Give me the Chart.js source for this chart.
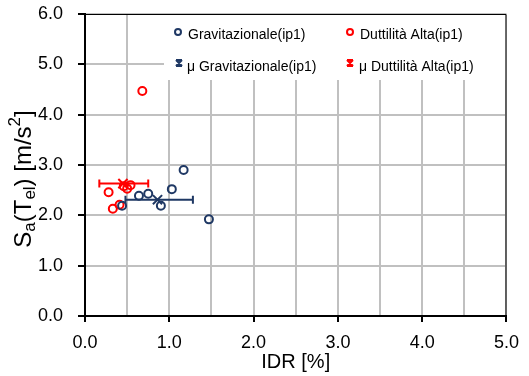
<!DOCTYPE html>
<html>
<head>
<meta charset="utf-8">
<script src="https://cdn.jsdelivr.net/npm/chart.js@4.4.0/dist/chart.umd.min.js"></script>
<style>
  html, body { margin: 0; padding: 0; background: #fff; }
  #chart { display: block; }
</style>
</head>
<body>
<canvas id="chart" width="529" height="376"></canvas>
<script>
/* ── Data ── */
const gravIDR = [1.17, 1.03, 0.75, 0.64, 0.44, 0.90, 1.47];
const gravSa  = [2.90, 2.52, 2.43, 2.39, 2.19, 2.19, 1.92];
const duttIDR = [0.28, 0.33, 0.41, 0.46, 0.50, 0.54, 0.68];
const duttSa  = [2.46, 2.13, 2.21, 2.58, 2.53, 2.60, 4.47];

// μ markers: [Gravitazionale, Duttilità Alta]
const meanIDR     = [0.86, 0.45];
const meanSa      = [2.31, 2.63];
const meanIDRLow  = [0.48, 0.17];
const meanIDRHigh = [1.28, 0.75];

const seriesLabels = ['Gravitazionale(ip1)', 'Duttilità Alta(ip1)', 'μ Gravitazionale(ip1)', 'μ Duttilità Alta(ip1)'];
const xTitle = 'IDR [%]';
// y title pieces: [text, 0 normal / 1 subscript / -1 superscript]
const yTitleParts = [['S', 0], ['a', 1], ['(T', 0], ['el', 1], [') [m/s', 0], ['2', -1], [']', 0]];

const NAVY = '#1f3864';
const RED  = '#ff0000';
const GRID = '#c0c0c0';
const FONT = "'Liberation Sans', Arial, sans-serif";

const toPts = (xs, ys) => xs.map((x, i) => ({ x, y: ys[i] }));

/* ── Error bars (horizontal) ── */
const errorBars = {
  id: 'errorBars',
  beforeDatasetsDraw(chart) {
    const { ctx, scales: { x, y } } = chart;
    const colors = [NAVY, RED];
    ctx.save();
    ctx.lineWidth = 2;
    meanIDR.forEach((_, i) => {
      const py = y.getPixelForValue(meanSa[i]);
      const x0 = x.getPixelForValue(meanIDRLow[i]);
      const x1 = x.getPixelForValue(meanIDRHigh[i]);
      ctx.strokeStyle = colors[i];
      ctx.beginPath();
      ctx.moveTo(x0, py); ctx.lineTo(x1, py);
      ctx.moveTo(x0, py - 4); ctx.lineTo(x0, py + 4);
      ctx.moveTo(x1, py - 4); ctx.lineTo(x1, py + 4);
      ctx.stroke();
    });
    ctx.restore();
  }
};

/* ── Legend box inside plot, frame, y title ── */
const decor = {
  id: 'decor',
  afterDraw(chart) {
    const { ctx, chartArea: a } = chart;
    ctx.save();

    // legend
    ctx.fillStyle = '#fff';
    ctx.fillRect(164, a.top + 1, a.right - 165, 80 - a.top - 1);
    const items = [
      { x: 178, y: 32, tx: 188, ty: 38.5, c: NAVY, s: 'circle' },
      { x: 350, y: 32, tx: 360, ty: 38.5, c: RED,  s: 'circle' },
      { x: 179, y: 63, tx: 187, ty: 71,   c: NAVY, s: 'x' },
      { x: 350, y: 63, tx: 359, ty: 71,   c: RED,  s: 'x' },
    ];
    ctx.font = '14px ' + FONT;
    ctx.textBaseline = 'alphabetic';
    items.forEach((it, i) => {
      ctx.strokeStyle = it.c;
      ctx.lineWidth = 2;
      ctx.beginPath();
      if (it.s === 'circle') {
        ctx.arc(it.x, it.y, 3, 0, Math.PI * 2);
      } else {
        ctx.moveTo(it.x - 3, it.y - 3); ctx.lineTo(it.x + 3, it.y + 3);
        ctx.moveTo(it.x + 3, it.y - 3); ctx.lineTo(it.x - 3, it.y + 3);
        ctx.moveTo(it.x - 3, it.y - 3); ctx.lineTo(it.x + 3, it.y - 3);
        ctx.moveTo(it.x - 3, it.y + 3); ctx.lineTo(it.x + 3, it.y + 3);
      }
      ctx.stroke();
      ctx.fillStyle = '#000';
      ctx.fillText(seriesLabels[i], it.tx, it.ty);
    });

    // top / right frame
    ctx.strokeStyle = '#000';
    ctx.lineWidth = 1;
    ctx.beginPath();
    ctx.moveTo(a.left, a.top + 0.5); ctx.lineTo(a.right - 0.5, a.top + 0.5);
    ctx.lineTo(a.right - 0.5, a.bottom);
    ctx.stroke();

    // y title with sub/superscripts
    const big = '24px ' + FONT, small = '17px ' + FONT;
    let total = 0;
    yTitleParts.forEach(([t, k]) => { ctx.font = k ? small : big; total += ctx.measureText(t).width; });
    ctx.translate(23, 179);
    ctx.rotate(-Math.PI / 2);
    ctx.fillStyle = '#000';
    ctx.textBaseline = 'alphabetic';
    let px = -total / 2;
    yTitleParts.forEach(([t, k]) => {
      ctx.font = k ? small : big;
      const dy = k === 1 ? 12 : k === -1 ? -3 : 8;
      ctx.fillText(t, px, dy);
      px += ctx.measureText(t).width;
    });
    ctx.restore();
  }
};

new Chart(document.getElementById('chart'), {
  type: 'scatter',
  data: {
    datasets: [
      { label: seriesLabels[0], data: toPts(gravIDR, gravSa), borderColor: NAVY, backgroundColor: 'transparent', pointRadius: 4, borderWidth: 2, pointStyle: 'circle' },
      { label: seriesLabels[1], data: toPts(duttIDR, duttSa), borderColor: RED,  backgroundColor: 'transparent', pointRadius: 4, borderWidth: 2, pointStyle: 'circle' },
      { label: seriesLabels[2], data: [{ x: meanIDR[0], y: meanSa[0] }], borderColor: NAVY, pointRadius: 6.5, borderWidth: 2, pointStyle: 'crossRot' },
      { label: seriesLabels[3], data: [{ x: meanIDR[1], y: meanSa[1] }], borderColor: RED,  pointRadius: 6.5, borderWidth: 2, pointStyle: 'crossRot' },
    ]
  },
  options: {
    responsive: false,
    animation: false,
    layout: { padding: { top: 14, right: 20, left: 0, bottom: 0 } },
    plugins: { legend: { display: false }, tooltip: { enabled: false } },
    scales: {
      x: {
        type: 'linear', min: 0, max: 5,
        afterFit: s => { s.height = 60; },
        border: { color: '#000', width: 2 },
        grid: { color: GRID, lineWidth: 2, tickLength: 6,
                tickColor: c => (c.tick && c.tick.value % 1 === 0) ? '#000' : 'rgba(0,0,0,0)' },
        ticks: { stepSize: 0.5, autoSkip: false, maxRotation: 0, padding: 10, color: '#000',
                 font: { family: FONT, size: 18 },
                 callback: v => v % 1 === 0 ? v.toFixed(1) : '' },
        title: { display: true, text: xTitle, color: '#000', font: { family: FONT, size: 20 }, padding: { top: 0, bottom: 2 } }
      },
      y: {
        type: 'linear', min: 0, max: 6,
        afterFit: s => { s.width = 85; s.paddingTop = 0; s.paddingBottom = 0; },
        border: { color: '#000', width: 2 },
        grid: { color: GRID, lineWidth: 2, tickLength: 7, tickColor: '#000' },
        ticks: { stepSize: 1, padding: 15, color: '#000',
                 font: { family: FONT, size: 18 },
                 callback: v => v.toFixed(1) }
      }
    }
  },
  plugins: [errorBars, decor]
});
</script>
</body>
</html>
